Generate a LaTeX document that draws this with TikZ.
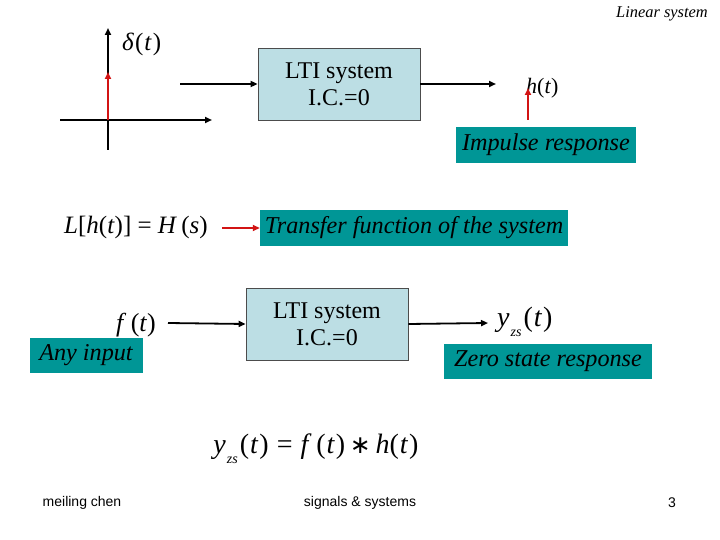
\documentclass[tikz,border=0pt]{standalone}
\usepackage{fontspec}
\setmainfont{Liberation Serif}
\newfontfamily\footfont{Liberation Sans}
\newfontfamily\djv{DejaVu Sans}
\usetikzlibrary{arrows.meta}
\definecolor{boxblue}{RGB}{188,222,228}
\definecolor{tealbox}{RGB}{0,150,150}
\definecolor{stemred}{RGB}{210,20,20}
\tikzset{
  ltibox/.style={draw=black!70, line width=0.8pt, fill=boxblue, minimum width=162pt, minimum height=72pt, align=center, font=\fontsize{24}{27}\selectfont, inner sep=0pt},
  tealnote/.style={fill=tealbox, inner sep=0pt, font=\fontsize{24.2}{27}\selectfont\itshape, text=black},
  sig/.style={line width=1.8pt, -{Triangle[length=7pt,width=6pt]}},
  redsig/.style={line width=1.8pt, draw=stemred, -{Triangle[length=7pt,width=6pt]}, color=stemred},
  mathlbl/.style={inner sep=0pt, font=\fontsize{22}{26}\selectfont},
  foot/.style={inner sep=0pt, font=\footfont\fontsize{14}{16}\selectfont}
}
\newcommand{\ital}[1]{\textit{#1}}
\begin{document}
\begin{tikzpicture}[x=1pt,y=-1pt]
\useasboundingbox (0,0) rectangle (720,540);
% title
\node[anchor=east, inner sep=0pt, font=\fontsize{16.4}{18}\selectfont\itshape] (title) at (708,14) {Linear system};
% impulse axes
\coordinate (ybot) at (108,150);
\coordinate (ytop) at (108,28);
\coordinate (xl) at (60,120);
\coordinate (xr) at (212,120);
\coordinate (orig) at (108,120);
\coordinate (imp) at (108,72);
\draw[sig] (ybot) -- (ytop);
\draw[sig] (xl) -- (xr);
\draw[redsig] (orig) -- (imp);
\node[mathlbl, anchor=west, font=\fontsize{25}{28}\selectfont] (delta) at (122,44) {\ital{δ}\kern1pt(\kern1pt\ital{t}\kern1pt)};
% first LTI system
\node[ltibox] (lti1) at (339,84) {LTI system\\I.C.=0};
\coordinate (in1) at (180,84);
\coordinate (out1) at (496,84);
\draw[sig] (in1) -- (lti1.west);
\draw[sig] (lti1.east) -- (out1);
\node[mathlbl, anchor=west] (ht) at (526,88) {\ital{h}(\ital{t})};
\node[tealnote, minimum width=180pt, minimum height=36pt] (impresp) at (546,145) {Impulse response};
\coordinate (rs) at (528,120);
\coordinate (re) at (528,88);
\draw[redsig] (rs) -- (re);
% transfer function
\node[mathlbl, anchor=west, font=\fontsize{25}{28}\selectfont] (lap) at (64,227) {\ital{L}[\ital{h}(\ital{t})] = \ital{H}\,(\ital{s})};
\node[tealnote, minimum width=308pt, minimum height=36pt] (tf) at (414,228) {Transfer function of the system};
\coordinate (lapend) at (222,228);
\draw[redsig] (lapend) -- (tf.west);
% second LTI system
\node[ltibox] (lti2) at (327,324) {LTI system\\I.C.=0};
\node[mathlbl, anchor=west, font=\fontsize{26}{29}\selectfont] (ft) at (116,325) {\ital{f}\,(\ital{t})};
\coordinate (in2) at (168,323);
\draw[sig] (in2) -- (lti2.west);
\node[tealnote, minimum width=113pt, minimum height=35pt] (anyin) at (86,355) {Any input};
\coordinate (out2) at (488,323);
\draw[sig] (lti2.east) -- (out2);
\node[mathlbl, anchor=west, font=\fontsize{28}{31}\selectfont] (yzs) at (497,322) {\ital{y}\kern1pt\raisebox{-0.35em}{\fontsize{14}{14}\selectfont\ital{zs}}\kern2pt(\kern1pt\ital{t}\kern1pt)};
\node[tealnote, minimum width=208pt, minimum height=35pt] (zsr) at (548,361) {Zero state response};
% equation
\node[mathlbl, font=\fontsize{28}{32}\selectfont] (eq) at (316,449) {\ital{y}\kern1pt\raisebox{-0.35em}{\fontsize{14}{14}\selectfont\ital{zs}}\kern2pt(\kern1pt\ital{t}\kern1pt)\hspace{8pt}=\hspace{8pt}\ital{f}\,(\kern1pt\ital{t}\kern1pt)\,{\djv\fontsize{25}{25}\selectfont ∗}\,\ital{h}(\kern1pt\ital{t}\kern1pt)};
% footer
\node[foot] (f1) at (82,503) {meiling chen};
\node[foot] (f2) at (360,503) {signals \& systems};
\node[foot] (f3) at (672,503) {3};
\end{tikzpicture}
\end{document}
